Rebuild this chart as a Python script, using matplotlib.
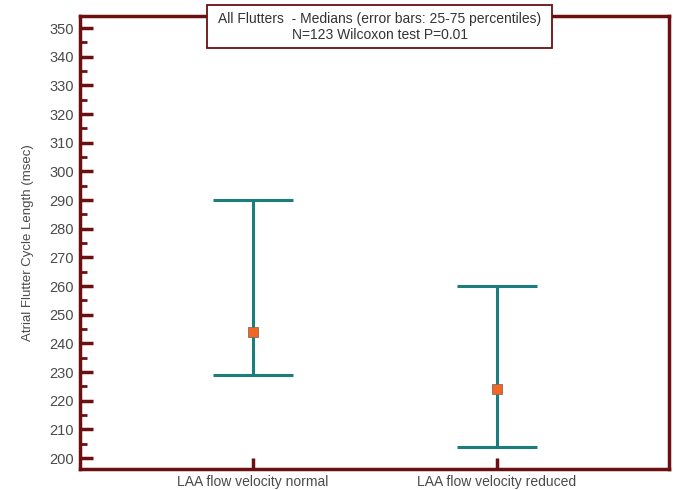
import matplotlib
matplotlib.use("Agg")
import matplotlib.pyplot as plt
from matplotlib.patches import Rectangle
from matplotlib.ticker import MultipleLocator

plt.rcParams['font.family'] = ['Liberation Sans', 'DejaVu Sans']

categories = ["LAA flow velocity normal", "LAA flow velocity reduced"]
medians = [244, 224]
q25 = [229, 204]
q75 = [290, 260]

spine_c = "#6b0f10"
bar_c = "#1c7d7f"
mark_c = "#f26522"
text_c = "#4a4a4a"

fig = plt.figure(figsize=(6.73, 4.90), dpi=100)
ax = fig.add_axes([80/673, 21/490, 589/673, 453/490])

x = [1, 2]
lower = [m - a for m, a in zip(medians, q25)]
upper = [b - m for m, b in zip(medians, q75)]
ax.errorbar(x, medians, yerr=[lower, upper], fmt='none', ecolor=bar_c,
            elinewidth=2.2, capsize=29, capthick=2.2, zorder=2)
ax.plot(x, medians, 's', color=mark_c, markersize=6.5, markeredgecolor="#8a6a5a",
        markeredgewidth=0.6, zorder=3)

ax.set_xlim(0.29, 2.705)
ax.set_ylim(196.2, 354.2)
ax.set_xticks(x)
ax.set_xticklabels(categories, fontsize=10, color=text_c)
ax.yaxis.set_major_locator(MultipleLocator(10))
ax.yaxis.set_minor_locator(MultipleLocator(5))
ax.tick_params(axis='y', which='major', direction='in', length=9, width=2.5,
               color=spine_c, labelsize=10.5, labelcolor=text_c, pad=4.5)
ax.tick_params(axis='y', which='minor', direction='in', length=5, width=2,
               color=spine_c)
ax.tick_params(axis='x', which='major', direction='in', length=8, width=2.5,
               color=spine_c, labelsize=10, labelcolor=text_c, pad=4)
for s in ax.spines.values():
    s.set_color(spine_c)
    s.set_linewidth(2.5)

ax.set_ylabel("Atrial Flutter Cycle Length (msec)", fontsize=9.5, color=text_c, labelpad=11)

# title box
bx0, bx1 = 207/673, 552/673
by0, by1 = 1 - 48/490, 1 - 5/490
fig.patches.append(Rectangle((bx0, by0), bx1 - bx0, by1 - by0, transform=fig.transFigure,
                             facecolor='white', edgecolor=spine_c, linewidth=1.3, zorder=5))
fig.text((bx0 + bx1) / 2, 1 - 19/490, "All Flutters  - Medians (error bars: 25-75 percentiles)",
         ha='center', va='center', fontsize=10, color='#333333', zorder=6)
fig.text((bx0 + bx1) / 2, 1 - 35/490, "N=123 Wilcoxon test P=0.01",
         ha='center', va='center', fontsize=10, color='#333333', zorder=6)

fig.savefig("out.png", dpi=100)
